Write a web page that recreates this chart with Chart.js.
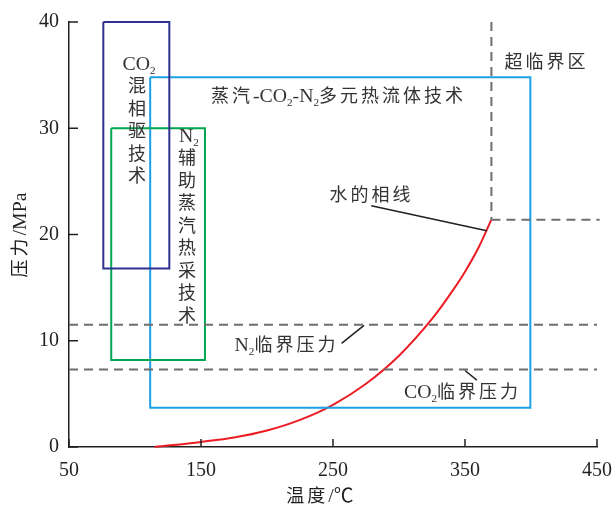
<!DOCTYPE html>
<html>
<head>
<meta charset="utf-8">
<script src="https://cdn.jsdelivr.net/npm/chart.js@4.4.1/dist/chart.umd.min.js"></script>
<style>
  html, body { margin: 0; padding: 0; background: #fff; }
  #wrap { width: 616px; height: 510px; }
</style>
</head>
<body>
<div id="wrap"><canvas id="chart" width="616" height="510"></canvas></div>
<script>
// axis ticks
const xTicks = [50, 150, 250, 350, 450];
const yTicks = [0, 10, 20, 30, 40];

// water saturation line (temperature °C, pressure MPa)
const waterT = [115, 150, 175, 200, 225, 250, 275, 300, 325, 340, 350, 360, 370];
const waterP = [0, 0.48, 0.89, 1.55, 2.55, 3.97, 5.95, 8.59, 12.05, 14.6, 16.5, 18.7, 21.4];

// technique boxes: [xMin, xMax, yMin, yMax]
const co2Box = [76, 126, 16.8, 40];
const n2Box = [82, 153, 8.2, 30];
const multiBox = [111.5, 399.5, 3.7, 34.8];

// critical pressures and supercritical corner
const n2Critical = 11.5;
const co2Critical = 7.3;
const superT = 370;
const superP = 21.4;

// leader lines [x1, y1, x2, y2]
const waterLeader = [279, 22.7, 366.5, 20.35];
const n2Leader = [256.5, 9.75, 273.5, 11.45];
const co2Leader = [350, 7.2, 359, 6.3];

function boxPoints(b) {
  return [
    { x: b[0], y: b[3] }, { x: b[1], y: b[3] }, { x: b[1], y: b[2] },
    { x: b[0], y: b[2] }, { x: b[0], y: b[3] }
  ];
}

function seg(a) {
  return [{ x: a[0], y: a[1] }, { x: a[2], y: a[3] }];
}

function lineSet(data, color, width, dash) {
  return {
    data: data,
    borderColor: color,
    borderWidth: width,
    borderDash: dash || [],
    pointRadius: 0,
    fill: false,
    tension: 0,
    clip: false
  };
}

const serif = "'Liberation Serif', 'Noto Sans CJK SC', serif";
const textColor = "#231f20";
const cjkGap = 3;

// draws text with "_2" style subscripts; latin a bit larger, gap after CJK glyphs
function drawRich(ctx, str, x, y, size, align) {
  const glyphs = [];
  for (let i = 0; i < str.length; i++) {
    if (str[i] === "_") {
      glyphs.push({ t: str[i + 1], sub: true });
      i++;
    } else {
      glyphs.push({ t: str[i], sub: false });
    }
  }
  let total = 0;
  glyphs.forEach((g, i) => {
    const cjk = g.t.charCodeAt(0) > 0x2e80;
    g.size = g.sub ? size * 0.62 : (cjk ? size : size * 1.1);
    ctx.font = g.size + "px " + serif;
    g.w = ctx.measureText(g.t).width;
    if (cjk && i < glyphs.length - 1) g.w += cjkGap;
    total += g.w;
  });
  let cx = align === "left" ? x : x - total / 2;
  ctx.textAlign = "left";
  ctx.textBaseline = "middle";
  glyphs.forEach(g => {
    ctx.font = g.size + "px " + serif;
    ctx.fillText(g.t, cx, g.sub ? y + size * 0.35 : y);
    cx += g.w;
  });
}

const labels = [
  { text: "蒸汽-CO_2-N_2多元热流体技术", x: 337, y: 97 },
  { text: "水的相线", x: 370, y: 196 },
  { text: "超临界区", x: 545, y: 63 },
  { text: "N_2临界压力", x: 285, y: 346 },
  { text: "CO_2临界压力", x: 461, y: 393 }
];

const vertical = [
  { head: "CO_2", chars: "混相驱技术", x: 139, y: 65 },
  { head: "N_2", chars: "辅助蒸汽热采技术", x: 189, y: 137 }
];

const decor = {
  id: "decor",
  afterDraw(chart) {
    const ctx = chart.ctx;
    const xs = chart.scales.x, ys = chart.scales.y;
    const area = chart.chartArea;
    ctx.save();
    // inward tick marks
    ctx.strokeStyle = "#231f20";
    ctx.lineWidth = 1.5;
    xTicks.forEach(v => {
      const px = xs.getPixelForValue(v);
      ctx.beginPath();
      ctx.moveTo(px, area.bottom);
      ctx.lineTo(px, area.bottom - 8);
      ctx.stroke();
    });
    yTicks.forEach(v => {
      const py = ys.getPixelForValue(v);
      ctx.beginPath();
      ctx.moveTo(area.left, py);
      ctx.lineTo(area.left + 9, py);
      ctx.stroke();
    });

    ctx.fillStyle = "#333";
    labels.forEach(l => drawRich(ctx, l.text, l.x, l.y, 18, "center"));
    vertical.forEach(v => {
      drawRich(ctx, v.head, v.x, v.y, 18, "center");
      for (let i = 0; i < v.chars.length; i++) {
        drawRich(ctx, v.chars[i], v.x - 2, v.y + 22.5 * (i + 1), 18, "center");
      }
    });

    // axis titles
    ctx.fillStyle = textColor;
    drawRich(ctx, "温度/℃", 320, 497, 18, "center");
    ctx.translate(21, 235);
    ctx.rotate(-Math.PI / 2);
    drawRich(ctx, "压力/MPa", 0, 0, 18, "center");
    ctx.restore();
  }
};

const gray = "#6d6e71";
const dash = [9, 6];

const datasets = [
  lineSet([{ x: 50, y: n2Critical }, { x: 450, y: n2Critical }], gray, 2, dash),
  lineSet([{ x: 50, y: co2Critical }, { x: 450, y: co2Critical }], gray, 2, dash),
  lineSet([{ x: superT, y: superP }, { x: 452, y: superP }], gray, 2, dash),
  lineSet([{ x: superT, y: 40 }, { x: superT, y: superP }], gray, 2, dash),
  lineSet(boxPoints(co2Box), "#2e3192", 2),
  lineSet(boxPoints(n2Box), "#00a651", 2),
  lineSet(boxPoints(multiBox), "#1ba1e2", 2),
  lineSet(seg(waterLeader), "#231f20", 1.5),
  lineSet(seg(n2Leader), "#231f20", 1.5),
  lineSet(seg(co2Leader), "#231f20", 1.5),
  Object.assign(
    lineSet(waterT.map((t, i) => ({ x: t, y: waterP[i] })), "#ed1c24", 2),
    { cubicInterpolationMode: "monotone" }
  )
];

const ctx = document.getElementById("chart").getContext("2d");
const chart = new Chart(ctx, {
  type: "line",
  data: { datasets: datasets },
  options: {
    responsive: false,
    animation: false,
    layout: { padding: { left: 0, top: 22, right: 19, bottom: 0 } },
    plugins: {
      legend: { display: false },
      tooltip: { enabled: false }
    },
    scales: {
      x: {
        type: "linear",
        min: 50,
        max: 450,
        afterBuildTicks: s => { s.ticks = xTicks.map(v => ({ value: v })); },
        afterFit: s => { s.height = 63; s.paddingLeft = 0; s.paddingRight = 0; },
        grid: { display: false, drawTicks: false },
        border: { display: true, color: "#231f20", width: 1.5 },
        ticks: { color: textColor, font: { family: serif, size: 20 }, padding: 12 }
      },
      y: {
        type: "linear",
        min: 0,
        max: 40,
        afterBuildTicks: s => { s.ticks = yTicks.map(v => ({ value: v })); },
        afterFit: s => { s.width = 69; s.paddingTop = 0; s.paddingBottom = 0; },
        grid: { display: false, drawTicks: false },
        border: { display: true, color: "#231f20", width: 1.5 },
        ticks: { color: textColor, font: { family: serif, size: 20 }, padding: 10 }
      }
    }
  },
  plugins: [decor]
});
</script>
</body>
</html>
